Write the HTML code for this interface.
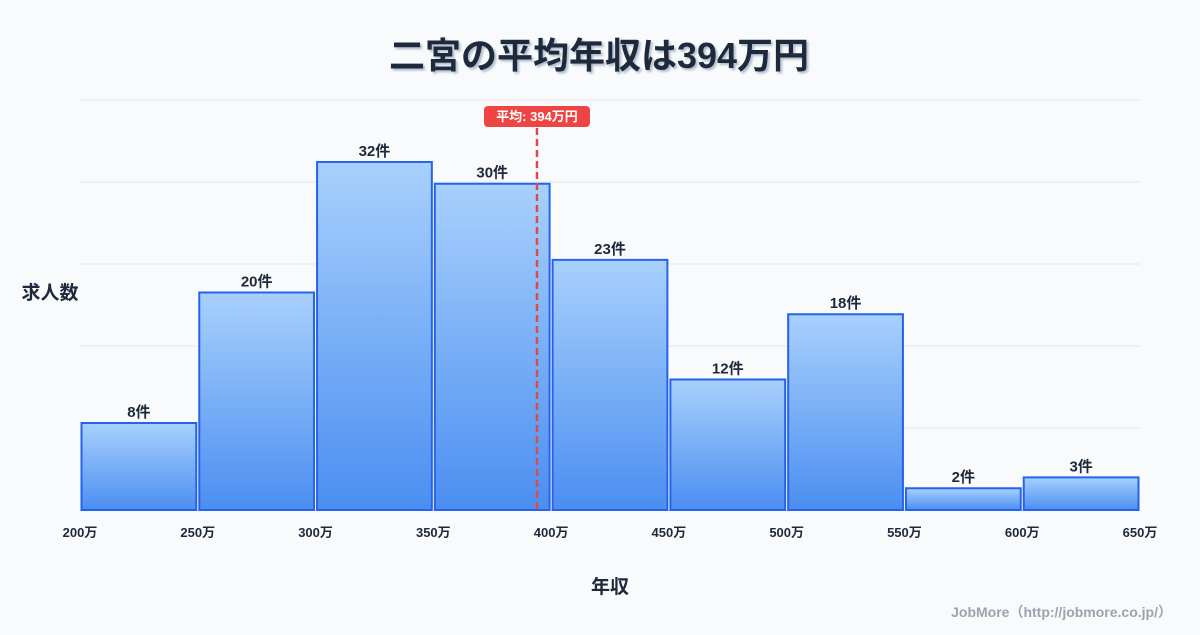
<!DOCTYPE html>
<html><head><meta charset="utf-8">
<style>
html,body{margin:0;padding:0;background:#f8fafc;}
body{width:1200px;height:630px;overflow:hidden;font-family:"Liberation Sans","Noto Sans CJK JP",sans-serif;}
</style></head>
<body>
<svg id="chart" width="1200" height="630" xmlns="http://www.w3.org/2000/svg" font-family="'Liberation Sans','Noto Sans CJK JP',sans-serif">
<defs>
<linearGradient id="bg" x1="0" y1="0" x2="0" y2="1">
<stop offset="0" stop-color="#a8d0fc"/><stop offset="1" stop-color="#4b8ef1"/>
</linearGradient>
<filter id="sh"><feDropShadow dx="2" dy="2" stdDeviation="1" flood-color="#94a3b8" flood-opacity="0.7"/></filter>
</defs>
<rect width="1200" height="630" fill="#f8fafc"/>
<text x="599" y="68" text-anchor="middle" font-size="36" font-weight="bold" fill="#1e293b" filter="url(#sh)">二宮の平均年収は394万円</text>
<g id="grid"></g>
<g id="bars"></g>
<g id="xticks"></g>
<text x="50" y="299" text-anchor="middle" font-size="19" font-weight="bold" fill="#1e293b">求人数</text>
<text x="610" y="593" text-anchor="middle" font-size="19" font-weight="bold" fill="#1e293b">年収</text>
<text x="1172" y="617" text-anchor="end" font-size="14" font-weight="bold" fill="#9ca3af">JobMore（http://jobmore.co.jp/）</text>
<g id="mean"></g>
</svg>
<script>
const binStarts = [200,250,300,350,400,450,500,550,600];
const counts = [8,20,32,30,23,12,18,2,3];
const xTickLabels = [200,250,300,350,400,450,500,550,600,650];
const meanValue = 394;

const NS="http://www.w3.org/2000/svg";
const L=80,R=1140,B=510,T=100,yMax=37.7;
const xs=v=>L+(v-200)/(650-200)*(R-L);
const ys=v=>B-v/yMax*(B-T);
function mk(tag,attrs,parent){const e=document.createElementNS(NS,tag);for(const k in attrs)e.setAttribute(k,attrs[k]);parent.appendChild(e);return e;}
const grid=document.getElementById('grid');
for(let i=0;i<=5;i++){const y=T+i*(B-T)/5;
 const l=mk('line',{x1:L,x2:R,y1:y,y2:y,stroke:i==5?'#cbd5e1':'#e5e7eb','stroke-width':1},grid);
 
 }
const bars=document.getElementById('bars');
binStarts.forEach((s,i)=>{
 const x0=xs(s)+1.5,x1=xs(s+50)-1.5,y=ys(counts[i]);
 const r=mk('rect',{x:x0,y:y,width:x1-x0,height:B-y,fill:'url(#bg)',stroke:'#2563eb','stroke-width':2},bars);
 
 
 const t=mk('text',{x:(x0+x1)/2,y:y-6,'text-anchor':'middle','font-size':15,'font-weight':'bold',fill:'#1e293b'},bars);
 t.textContent=counts[i]+'件';
 
 
});
const xt=document.getElementById('xticks');
xTickLabels.forEach(v=>{
 const t=mk('text',{x:xs(v),y:537,'text-anchor':'middle','font-size':13,'font-weight':'bold',fill:'#1e293b'},xt);
 t.textContent=v+'万';
 
 
});
const mg=document.getElementById('mean');
const mx=xs(meanValue);
const ml=mk('line',{x1:mx,x2:mx,y1:128,y2:B,stroke:'#dc4b4b','stroke-width':2.5,'stroke-dasharray':'7,4'},mg);


const br=mk('rect',{x:mx-53,y:106,width:106,height:21,rx:4,fill:'#ef4444'},mg);


const bt=mk('text',{x:mx,y:121,'text-anchor':'middle','font-size':13,'font-weight':'bold',fill:'#ffffff'},mg);
bt.textContent='平均: '+meanValue+'万円';


</script>
</body></html>
